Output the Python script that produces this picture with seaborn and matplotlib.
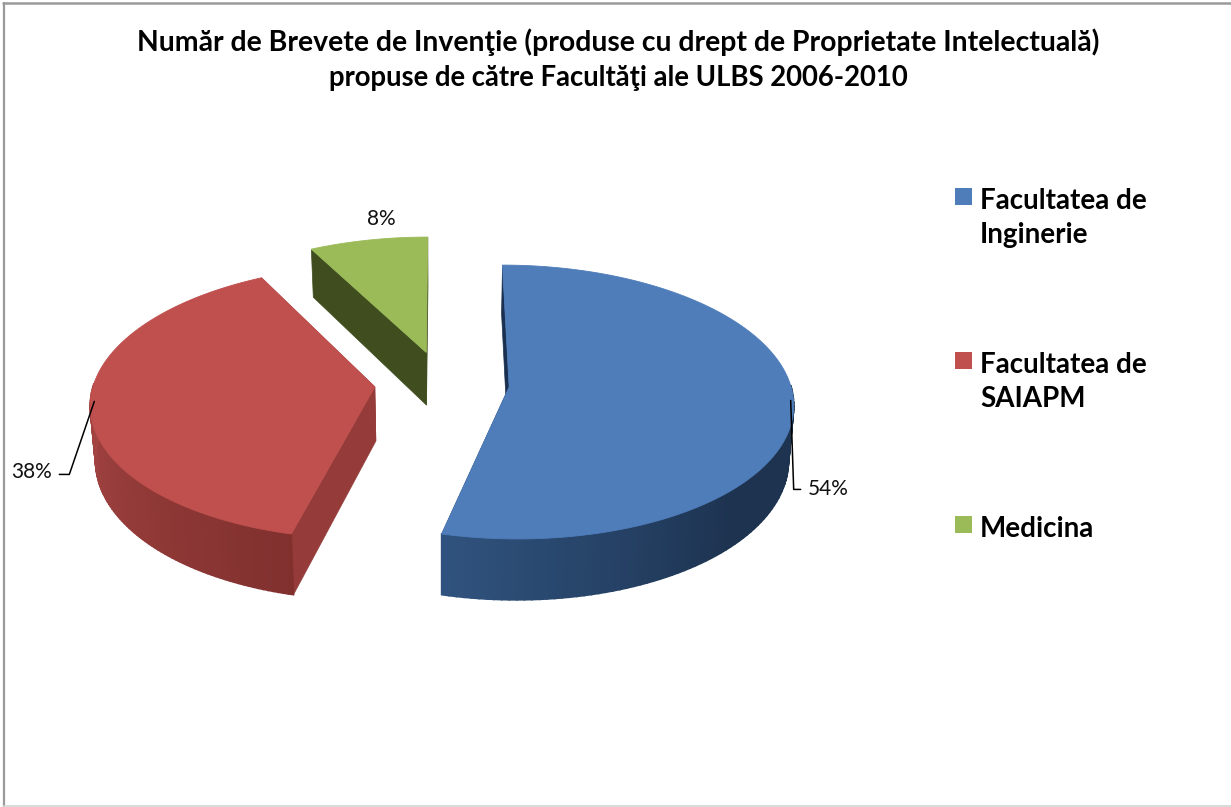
import numpy as np
import matplotlib
matplotlib.use("Agg")
import matplotlib.pyplot as plt
from matplotlib.colors import to_rgb
import seaborn as sns

title_lines = ["Număr de Brevete de Invenţie (produse cu drept de Proprietate Intelectuală)",
               "propuse de către Facultăţi ale ULBS 2006-2010"]
faculties = ["Facultatea de\nInginerie", "Facultatea de\nSAIAPM", "Medicina"]
patents = [7, 5, 1]

top_colors = ["#4f7dba", "#c0504e", "#9bbb59"]
cut_colors = ["#1a3050", "#953c3a", "#3f4d1f"]
rim_light = ["#30537f", "#a54543", "#3f4d1f"]
rim_dark = ["#1d3350", "#7e2f2d", "#3f4d1f"]

sns.set_theme(style="white")
plt.rcParams["font.family"] = ["Lato", "DejaVu Sans"]

# 3D pie projection (pixel layout of the figure)
CX, CY, A, B, K, H, EXPLODE, TAPER = 442, 383, 281, 134.4, 0.11, 54, 0.24, 0.985


def project(theta, radius, mid, drop=0.0):
    u = radius * np.sin(theta) + EXPLODE * np.sin(mid)
    v = radius * np.cos(theta) + EXPLODE * np.cos(mid)
    s = 1 / (1 + K * v)
    x = CX + A * u * s
    y = CY - B * v * s
    if drop:
        x = CX + (x - CX) * TAPER
        y = y + H * s
    return x, y


fig = plt.figure(figsize=(12.31, 8.07), dpi=100, facecolor="white")
ax = fig.add_axes([0, 0, 1, 1])
ax.set_xlim(0, 1231)
ax.set_ylim(807, 0)
ax.axis("off")

# chart frame
ax.plot([3.5, 3.5], [3, 806], color="#9a9a9a", lw=1.6)
ax.plot([3, 1231], [3, 3], color="#9a9a9a", lw=1.8)
ax.plot([3, 1231], [806, 806], color="#d4d4d4", lw=1.2)

shares = np.array(patents, dtype=float) / sum(patents)
edges = np.concatenate([[0], np.cumsum(shares)]) * 2 * np.pi
mids = (edges[:-1] + edges[1:]) / 2

for i in [2, 1, 0]:
    t0, t1, mid = edges[i], edges[i + 1], mids[i]
    thetas = np.linspace(t0, t1, 140)
    # cut faces
    for t in (t0, t1):
        pts = [project(t, 1, mid), project(t, 0, mid), project(t, 0, mid, 1), project(t, 1, mid, 1)]
        ax.fill(*zip(*pts), color=cut_colors[i], lw=0.5, zorder=2)
    # rim, shaded along its front arc; the back half stays hidden
    light, dark = np.array(to_rgb(rim_light[i])), np.array(to_rgb(rim_dark[i]))
    for a, b in zip(thetas[:-1], thetas[1:]):
        m = (a + b) / 2
        if np.cos(m) > 0.02:
            continue
        if i == 0:
            w = np.clip((np.pi * 1.08 - m) / (np.pi * 0.33), 0, 1)
        else:
            w = np.clip((np.pi * 1.5 - m) / (np.pi * 0.45), 0, 1)
        shade = light + (dark - light) * w
        pts = [project(a, 1, mid), project(b, 1, mid), project(b, 1, mid, 1), project(a, 1, mid, 1)]
        ax.fill(*zip(*pts), color=shade, lw=1.2, zorder=3)
    # top surface
    outline = [project(t, 1, mid) for t in thetas] + [project(0, 0, mid)]
    ax.fill(*zip(*outline), color=top_colors[i], lw=0.6, zorder=4)

# percentage labels with leaders
pct = [f"{round(s * 100):d}%" for s in shares]
bx, by = project(mids[0], 1, mids[0])
ax.plot([bx - 3, bx, bx + 7], [by - 3, by + 86, by + 86], color="black", lw=1.1, zorder=5)
ax.text(bx + 14, by + 86, pct[0], fontsize=15, color="#111111", va="center", ha="left")
rx, ry = project(mids[1], 1, mids[1])
ax.plot([rx + 4, rx - 21, rx - 31], [ry - 2, ry + 71, ry + 71], color="black", lw=1.1, zorder=5)
ax.text(rx - 38, ry + 69, pct[1], fontsize=15, color="#111111", va="center", ha="right")
gx, gy = project(mids[2], 1, mids[2])
ax.text(gx + 13, gy - 21, pct[2], fontsize=15, color="#111111", va="center", ha="center")

# title
for line, y, size in zip(title_lines, (42, 78), (20.45, 19.8)):
    ax.text(618, y, line, fontsize=size, fontweight="bold", color="black", ha="center", va="center")

# legend
for face, color, y in zip(faculties, top_colors, (188, 352, 516)):
    ax.fill([955, 972, 972, 955], [y, y, y + 17, y + 17], color=color, lw=0)
    ax.text(980, y, face, fontsize=20, fontweight="bold", color="black", ha="left", va="top", linespacing=1.4)

fig.savefig("out.png", dpi=100, facecolor="white")
